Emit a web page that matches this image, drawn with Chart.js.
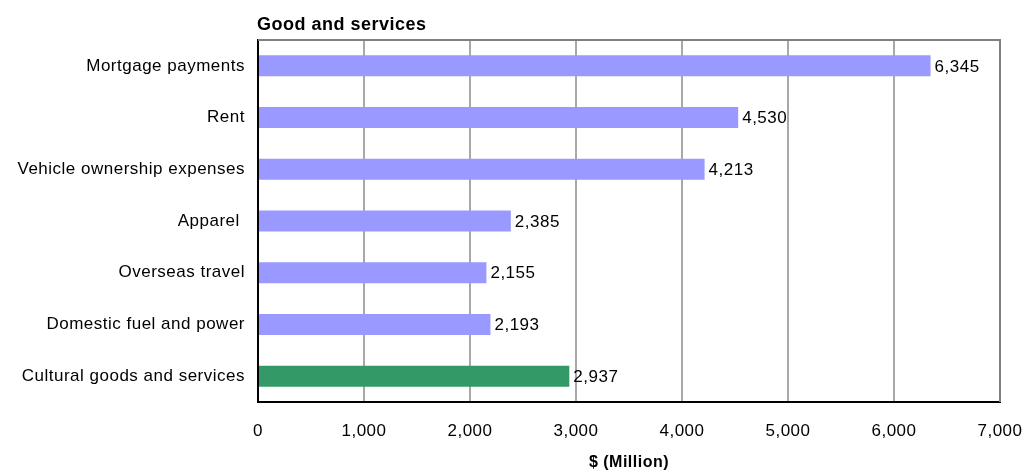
<!DOCTYPE html>
<html>
<head>
<meta charset="utf-8">
<style>
  html, body { margin: 0; padding: 0; background: #fff; }
  #wrap { width: 1026px; height: 470px; }
</style>
<script src="https://cdn.jsdelivr.net/npm/chart.js@4/dist/chart.umd.min.js"></script>
</head>
<body>
<div id="wrap"><canvas id="chart" width="1026" height="470"></canvas></div>
<script>
// Spending by category, $ million
const categories = [
  'Mortgage payments',
  'Rent',
  'Vehicle ownership expenses',
  'Apparel ',
  'Overseas travel',
  'Domestic fuel and power',
  'Cultural goods and services'
];
const spending = [6345, 4530, 4213, 2385, 2155, 2193, 2937];
const highlighted = 'Cultural goods and services';
const xTicks = [0, 1000, 2000, 3000, 4000, 5000, 6000, 7000];
const chartTitle = 'Good and services';
const axisTitle = '$ (Million)';

const FONT = '"Liberation Sans", Arial, sans-serif';
const BLUE = '#9999ff';
const GREEN = '#339966';
const SPACING = '0.5px';

// Slightly open letter spacing on every text drawn on the canvas
const spacingPlugin = {
  id: 'spacing',
  beforeUpdate(chart) { chart.ctx.letterSpacing = SPACING; },
  beforeLayout(chart) { chart.ctx.letterSpacing = SPACING; },
  beforeDraw(chart) { chart.ctx.letterSpacing = SPACING; }
};

// Grey frame on the top and right of the plot area, plus the heading
const framePlugin = {
  id: 'frame',
  beforeDatasetsDraw(chart) {
    const { ctx, chartArea: a } = chart;
    ctx.save();
    ctx.strokeStyle = '#808080';
    ctx.lineWidth = 2;
    ctx.beginPath();
    ctx.moveTo(a.left, a.top);
    ctx.lineTo(a.right, a.top);
    ctx.lineTo(a.right, a.bottom);
    ctx.stroke();
    ctx.restore();
  },
  afterDraw(chart) {
    const { ctx, chartArea: a } = chart;
    ctx.save();
    ctx.fillStyle = '#000';
    ctx.font = 'bold 18px ' + FONT;
    ctx.textAlign = 'left';
    ctx.textBaseline = 'alphabetic';
    ctx.fillText(chartTitle, a.left - 1, 30);
    ctx.restore();
  }
};

// Value printed just past the end of each bar
const valueLabels = {
  id: 'valueLabels',
  afterDatasetsDraw(chart) {
    const { ctx } = chart;
    const meta = chart.getDatasetMeta(0);
    ctx.save();
    ctx.fillStyle = '#000';
    ctx.font = '17px ' + FONT;
    ctx.textAlign = 'left';
    ctx.textBaseline = 'middle';
    meta.data.forEach((bar, i) => {
      ctx.fillText(spending[i].toLocaleString('en-US'), bar.x + 4, bar.y + 1);
    });
    ctx.restore();
  }
};

new Chart(document.getElementById('chart'), {
  type: 'bar',
  data: {
    labels: categories,
    datasets: [{
      data: spending,
      backgroundColor: categories.map(c => c === highlighted ? GREEN : BLUE),
      borderWidth: 0,
      barPercentage: 0.406,
      categoryPercentage: 1
    }]
  },
  options: {
    indexAxis: 'y',
    responsive: false,
    animation: false,
    layout: { padding: { top: 40, right: 26, left: 0, bottom: 0 } },
    plugins: {
      legend: { display: false },
      title: { display: false },
      tooltip: { enabled: false }
    },
    scales: {
      x: {
        min: xTicks[0],
        max: xTicks[xTicks.length - 1],
        afterBuildTicks(scale) { scale.ticks = xTicks.map(v => ({ value: v })); },
        afterFit(scale) {
          scale.height = 68;
          scale.paddingLeft = 0;
          scale.paddingRight = 0;
        },
        grid: { color: '#a8a8a8', lineWidth: 2, drawTicks: false },
        border: { color: '#000', width: 2 },
        ticks: {
          color: '#000',
          font: { family: FONT, size: 17 },
          padding: 19,
          callback: v => Number(v).toLocaleString('en-US')
        },
        title: {
          display: true,
          text: axisTitle,
          color: '#000',
          font: { family: FONT, size: 16, weight: 'bold', lineHeight: 1 },
          padding: { top: 0, bottom: -1 }
        }
      },
      y: {
        afterFit(scale) { scale.width = 258; },
        grid: { display: false, drawTicks: false },
        border: { color: '#000', width: 2 },
        ticks: {
          color: '#000',
          font: { family: FONT, size: 17 },
          padding: 13
        }
      }
    }
  },
  plugins: [spacingPlugin, framePlugin, valueLabels]
});
</script>
</body>
</html>
